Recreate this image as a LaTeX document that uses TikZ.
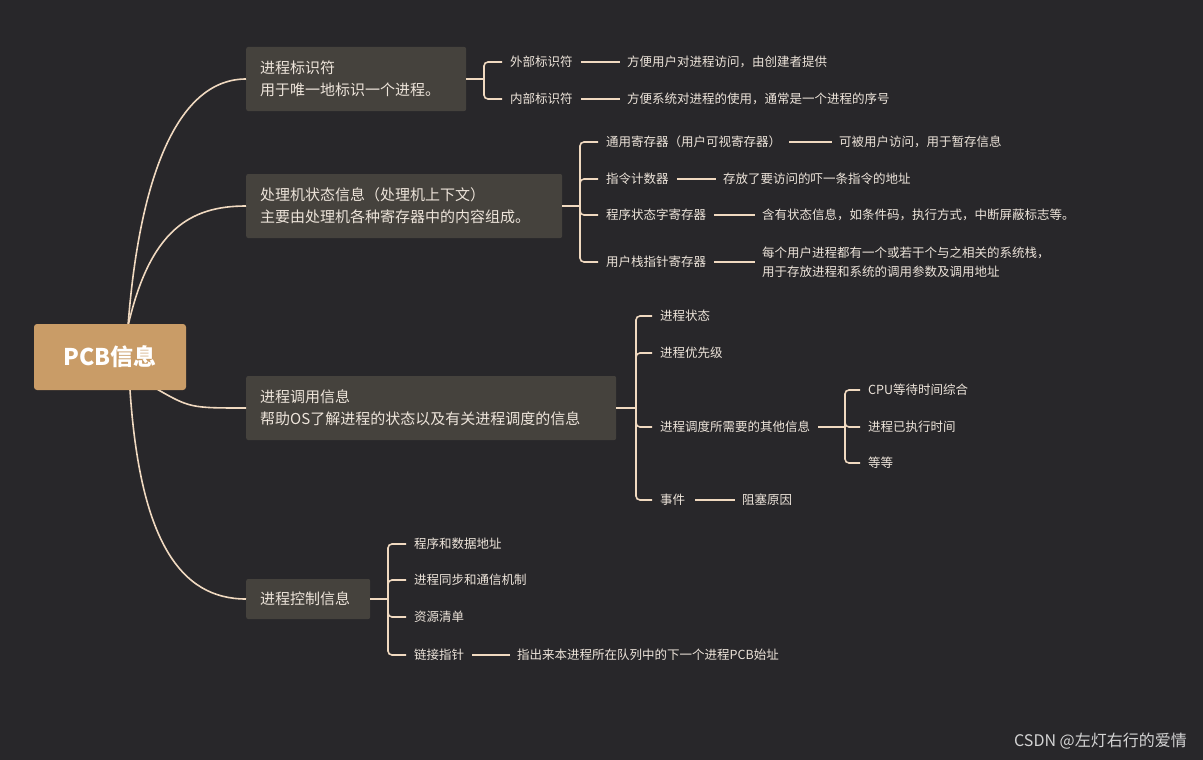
\documentclass[tikz,border=0pt]{standalone}
\usepackage{fontspec}
\setmainfont{Noto Sans CJK SC}
\begin{document}
\begin{tikzpicture}[x=1pt,y=-1pt,
  ln/.style={draw=lc,line width=1.6pt},
  box/.style={fill=bx,rounded corners=2pt,anchor=west,align=left,text=tx,font=\fontsize{15}{22}\selectfont,inner xsep=14pt,inner ysep=0pt},
  leaf/.style={anchor=west,text=tx,font=\fontsize{12.5}{19}\selectfont,inner sep=0pt,align=left},
  br/.style={ln,rounded corners=4pt}]
\definecolor{bg}{HTML}{28272A}
\definecolor{bx}{HTML}{45423D}
\definecolor{rt}{HTML}{C99C67}
\definecolor{lc}{HTML}{F0D9C0}
\definecolor{tx}{HTML}{EDE4DA}
\fill[bg] (0,0) rectangle (1203,760);
\useasboundingbox (0,0) rectangle (1203,760);
% curves
\coordinate (s1) at (128,326);
\coordinate (s3) at (155,388);
\coordinate (s4) at (130,390);
\node[box,minimum width=220pt,minimum height=64pt,text width=192pt] (b1) at (246,79) {进程标识符\\用于唯一地标识一个进程。};
\node[box,minimum width=316pt,minimum height=64pt,text width=288pt] (b2) at (246,206) {处理机状态信息（处理机上下文）\\主要由处理机各种寄存器中的内容组成。};
\node[box,minimum width=370pt,minimum height=64pt,text width=342pt] (b3) at (246,408) {进程调用信息\\帮助OS了解进程的状态以及有关进程调度的信息};
\node[box,minimum width=124pt,minimum height=40pt,text width=96pt] (b4) at (246,599) {进程控制信息};
\draw[ln] (s1) .. controls (140,170) and (180,79) .. (b1.west);
\draw[ln] (s1) .. controls (150,230) and (190,206) .. (b2.west);
\draw[ln] (s3) .. controls (190,408) .. (b3.west);
\draw[ln] (s4) .. controls (140,540) and (180,599) .. (b4.west);
\node[fill=rt,rounded corners=3pt,minimum width=152pt,minimum height=66pt,text=white,font=\fontsize{23}{28}\selectfont\bfseries] (root) at (110,357) {PCB信息};
% b1
\node[leaf] (a1) at (510,62) {外部标识符};
\node[leaf] (a2) at (510,99) {内部标识符};
\node[leaf] (a1d) at (627,62) {方便用户对进程访问，由创建者提供};
\node[leaf] (a2d) at (627,99) {方便系统对进程的使用，通常是一个进程的序号};
\coordinate (k1) at (484,79);
\draw[ln] (b1.east) -- (k1);
\foreach \n in {a1,a2} \draw[br] (k1) |- ([xshift=-8pt]\n.west);
\draw[ln] ([xshift=8pt]a1.east) -- ([xshift=-7pt]a1d.west);
\draw[ln] ([xshift=8pt]a2.east) -- ([xshift=-7pt]a2d.west);
% b2
\node[leaf] (c1) at (606,142) {通用寄存器（用户可视寄存器）};
\node[leaf] (c2) at (606,179) {指令计数器};
\node[leaf] (c3) at (606,215) {程序状态字寄存器};
\node[leaf] (c4) at (606,262) {用户栈指针寄存器};
\node[leaf] (c1d) at (839,142) {可被用户访问，用于暂存信息};
\node[leaf] (c2d) at (723,179) {存放了要访问的吓一条指令的地址};
\node[leaf] (c3d) at (762,215) {含有状态信息，如条件码，执行方式，中断屏蔽标志等。};
\node[leaf] (c4d) at (762,262) {每个用户进程都有一个或若干个与之相关的系统栈，\\用于存放进程和系统的调用参数及调用地址};
\coordinate (k2) at (580,206);
\draw[ln] (b2.east) -- (k2);
\foreach \n in {c1,c2,c3,c4} \draw[br] (k2) |- ([xshift=-8pt]\n.west);
\foreach \n in {c1,c2,c3} \draw[ln] ([xshift=8pt]\n.east) -- ([xshift=-7pt]\n d.west);
\draw[ln] ([xshift=8pt]c4.east) -- ([xshift=-7pt]c4d.west|-c4.east);
% b3
\node[leaf] (d1) at (660,316) {进程状态};
\node[leaf] (d2) at (660,353) {进程优先级};
\node[leaf] (d3) at (660,427) {进程调度所需要的其他信息};
\node[leaf] (d4) at (660,500) {事件};
\node[leaf] (d4d) at (742,500) {阻塞原因};
\node[leaf] (e1) at (868,390) {CPU等待时间综合};
\node[leaf] (e2) at (868,427) {进程已执行时间};
\node[leaf] (e3) at (868,463) {等等};
\coordinate (k3) at (636,408);
\draw[ln] (b3.east) -- (k3);
\foreach \n in {d1,d2,d3,d4} \draw[br] (k3) |- ([xshift=-8pt]\n.west);
\draw[ln] ([xshift=10pt]d4.east) -- ([xshift=-7pt]d4d.west);
\coordinate (k4) at (845,427);
\draw[ln] ([xshift=8pt]d3.east) -- (k4);
\foreach \n in {e1,e2,e3} \draw[br] (k4) |- ([xshift=-8pt]\n.west);
% b4
\node[leaf] (f1) at (414,544) {程序和数据地址};
\node[leaf] (f2) at (414,580) {进程同步和通信机制};
\node[leaf] (f3) at (414,617) {资源清单};
\node[leaf] (f4) at (414,655) {链接指针};
\node[leaf] (f4d) at (517,655) {指出来本进程所在队列中的下一个进程PCB始址};
\coordinate (k5) at (388,599);
\draw[ln] (b4.east) -- (k5);
\foreach \n in {f1,f2,f3,f4} \draw[br] (k5) |- ([xshift=-8pt]\n.west);
\draw[ln] ([xshift=8pt]f4.east) -- ([xshift=-7pt]f4d.west);
\node[anchor=east,text=white!80!bg,font=\fontsize{16}{20}\selectfont,inner sep=0pt] (wm) at (1187,741) {CSDN @左灯右行的爱情};
\end{tikzpicture}
\end{document}
